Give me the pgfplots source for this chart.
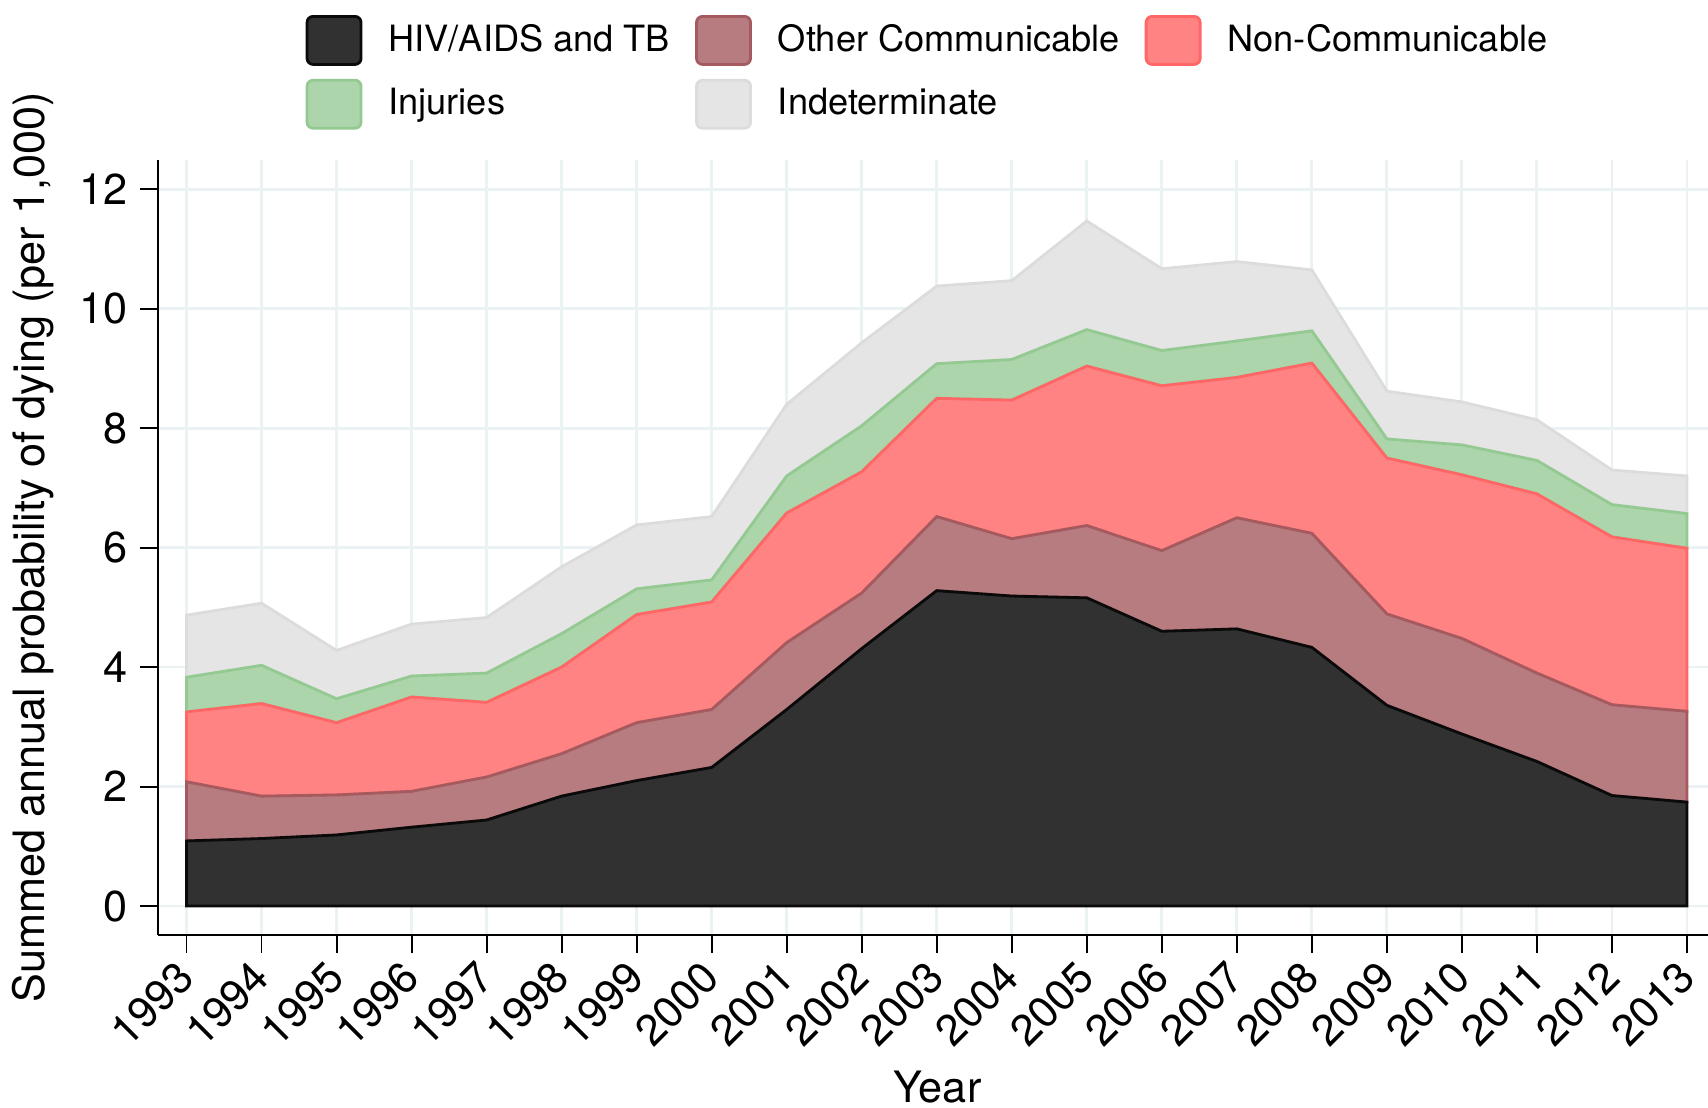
\documentclass[border=0pt]{standalone}
\usepackage{fontspec}
\setmainfont{TeX Gyre Heros}
\usepackage{pgfplots}
\pgfplotsset{compat=1.18}
\usepackage{pgfplotstable}

\definecolor{hivF}{HTML}{313131}
\definecolor{hivE}{HTML}{0A0A0A}
\definecolor{othF}{HTML}{B67C7F}
\definecolor{othE}{HTML}{A45A5E}
\definecolor{ncF}{HTML}{FF8383}
\definecolor{ncE}{HTML}{FF6666}
\definecolor{injF}{HTML}{ACD5AB}
\definecolor{injE}{HTML}{94CA92}
\definecolor{indF}{HTML}{E5E5E5}
\definecolor{indE}{HTML}{DCDCDC}
\definecolor{gridc}{HTML}{EAF2F3}

\newcommand\tickfont{\fontsize{12.3}{14}\selectfont}
\newcommand\legfont{\fontsize{10.3}{12}\selectfont}

% increments per cause, stacked in this order
\pgfplotstableread{
year hiv  other noncomm inj  indet
1993 1.09 0.99  1.17    0.58 1.04
1994 1.13 0.71  1.55    0.64 1.04
1995 1.19 0.67  1.21    0.40 0.81
1996 1.32 0.60  1.58    0.35 0.87
1997 1.44 0.72  1.25    0.49 0.93
1998 1.84 0.71  1.45    0.56 1.12
1999 2.10 0.97  1.81    0.43 1.07
2000 2.32 0.97  1.80    0.37 1.06
2001 3.29 1.12  2.17    0.62 1.20
2002 4.31 0.93  2.03    0.77 1.39
2003 5.28 1.24  1.98    0.58 1.30
2004 5.19 0.96  2.32    0.68 1.32
2005 5.16 1.21  2.67    0.61 1.82
2006 4.60 1.35  2.76    0.59 1.37
2007 4.64 1.86  2.35    0.61 1.33
2008 4.33 1.91  2.85    0.54 1.02
2009 3.36 1.53  2.61    0.32 0.80
2010 2.88 1.60  2.74    0.50 0.72
2011 2.42 1.48  3.00    0.56 0.68
2012 1.85 1.52  2.81    0.54 0.58
2013 1.74 1.52  2.73    0.58 0.63
}\deaths

\begin{document}
\begin{tikzpicture}
\begin{axis}[
  scale only axis,
  width=155mm, height=77.5mm,
  xmin=1992.62, xmax=2013.28,
  ymin=-0.485, ymax=12.49,
  axis lines=left,
  axis line style={-, line width=0.55pt, black},
  stack plots=y,
  xtick={1993,...,2013},
  xticklabels={},
  ytick={0,2,...,12},
  tick align=outside,
  major tick length=1.8mm,
  tick style={black, line width=0.55pt},
  grid=major,
  major grid style={draw=gridc, line width=0.75pt},
  /pgf/number format/assume math mode=true,
  y tick label style={font=\tickfont},
  xlabel={Year},
  ylabel={Summed annual probability of dying (per 1,000)},
  label style={font=\tickfont},
  xlabel style={at={(axis description cs:0.503,-0.196)}, anchor=center},
  ylabel style={at={(axis description cs:-0.0806,0.5)}, anchor=center},
  legend columns=3,
  legend cell align=left,
  legend style={at={(axis description cs:0.0948,1.188)}, anchor=north west,
    draw=none, fill=none, inner sep=0pt, font=\legfont,
    column sep=2.6mm, row sep=1.3mm,
    /tikz/every even column/.append style={column sep=2.5mm},
    nodes={inner sep=0pt}},
  legend image code/.code={\draw[#1, rounded corners=0.6mm] (0mm,-2.4mm) rectangle (5.4mm,2.4mm);},
]
\addplot[fill=hivF, draw=hivE, line width=0.8pt] table[x=year, y=hiv] {\deaths} \closedcycle;
\addlegendentry{HIV/AIDS and TB}
\addplot[fill=othF, draw=othE, line width=0.8pt] table[x=year, y=other] {\deaths} \closedcycle;
\addlegendentry{Other Communicable}
\addplot[fill=ncF, draw=ncE, line width=0.8pt] table[x=year, y=noncomm] {\deaths} \closedcycle;
\addlegendentry{Non-Communicable}
\addplot[fill=injF, draw=injE, line width=0.8pt] table[x=year, y=inj] {\deaths} \closedcycle;
\addlegendentry{Injuries}
\addplot[fill=indF, draw=indE, line width=0.8pt] table[x=year, y=indet] {\deaths} \closedcycle;
\addlegendentry{Indeterminate}
\end{axis}
% rotated year labels, right end centred under each tick
\foreach \yr in {1993,...,2013}
  \node[rotate=45, anchor=east, inner sep=0pt, font=\tickfont]
    at ({(\yr-1992.62)*7.5024mm}, -3.4mm) {\yr};
\pgfresetboundingbox
\useasboundingbox (-15.8mm,-17.2mm) rectangle (155mm,93.5mm);
\end{tikzpicture}
\end{document}
